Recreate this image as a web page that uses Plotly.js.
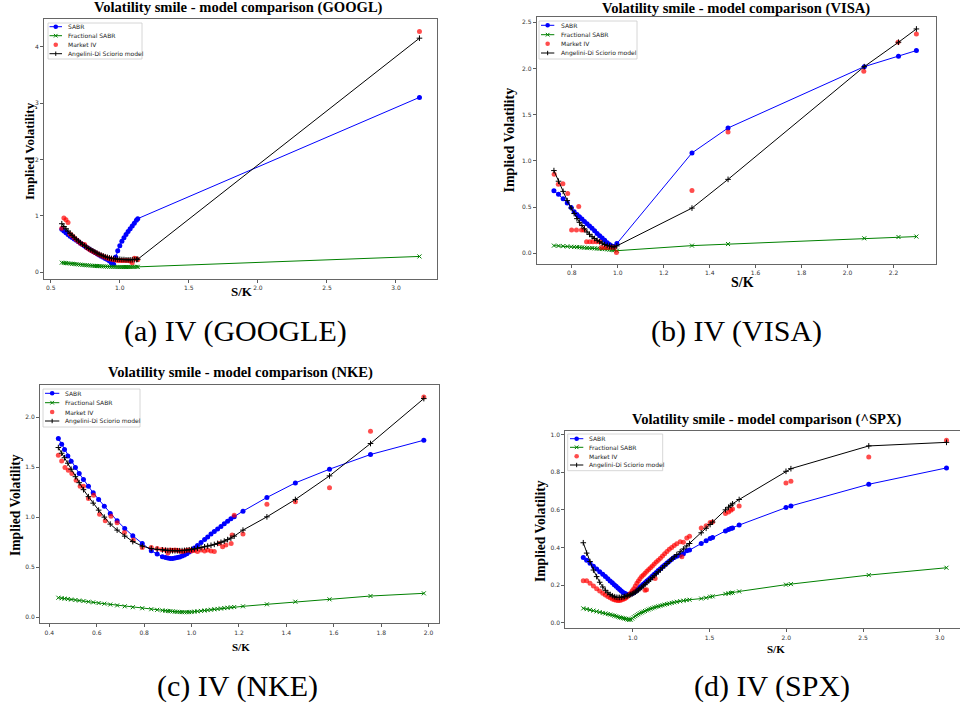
<!DOCTYPE html>
<html>
<head>
<meta charset="utf-8">
<script src="https://cdn.plot.ly/plotly-3.0.1.min.js"></script>
<style>html,body{margin:0;padding:0;background:#fff;}#chart{width:960px;height:706px;}</style>
</head>
<body>
<div id="chart"></div>
<script>
// ---------- DATA ----------
const seriesNames = ['SABR', 'Fractional SABR', 'Market IV', 'Angelini-Di Sciorio model'];
const panelTitles = ['Volatility smile - model comparison (GOOGL)', 'Volatility smile - model comparison (VISA)',
                     'Volatility smile - model comparison (NKE)', 'Volatility smile - model comparison (^SPX)'];
const captions = ['(a) IV (GOOGLE)', '(b) IV (VISA)', '(c) IV (NKE)', '(d) IV (SPX)'];

// (a) GOOGL
const googl_x = [0.58,0.595,0.61,0.625,0.64,0.655,0.67,0.685,0.70,0.715,0.73,0.745,0.76,0.775,0.79,0.805,0.82,0.835,0.85,0.865,0.88,0.895,0.91,0.925,0.94,0.955,0.97,0.985,1.00,1.015,1.03,1.045,1.06,1.075,1.09,1.105,1.12,1.13,3.17];
const googl_sabr = [0.76,0.73,0.70,0.67,0.64,0.615,0.59,0.565,0.54,0.515,0.49,0.465,0.44,0.415,0.395,0.37,0.35,0.325,0.305,0.285,0.265,0.245,0.225,0.2,0.16,0.14,0.27,0.38,0.47,0.55,0.61,0.67,0.72,0.77,0.82,0.87,0.92,0.95,3.10];
const googl_frac = [0.170,0.166,0.162,0.158,0.154,0.150,0.146,0.142,0.138,0.134,0.130,0.127,0.124,0.121,0.118,0.115,0.112,0.110,0.108,0.106,0.104,0.102,0.100,0.098,0.096,0.095,0.094,0.093,0.092,0.092,0.092,0.092,0.093,0.093,0.094,0.094,0.095,0.095,0.28];
const googl_mkt = [0.78,0.96,0.93,0.88,0.68,0.645,0.61,0.575,0.545,0.515,0.49,0.49,0.44,0.41,0.39,0.37,0.35,0.33,0.31,0.295,0.28,0.265,0.25,0.24,0.23,0.22,0.215,0.21,0.21,0.21,0.21,0.21,0.21,0.20,0.17,0.25,0.24,0.22,4.27];
const googl_adis = [0.86,0.81,0.77,0.73,0.69,0.655,0.62,0.585,0.555,0.525,0.495,0.47,0.445,0.42,0.40,0.38,0.36,0.34,0.32,0.305,0.29,0.275,0.265,0.255,0.245,0.24,0.235,0.23,0.23,0.225,0.225,0.22,0.22,0.22,0.22,0.225,0.225,0.23,4.15];

// (b) VISA
const visa_x = [0.722,0.742,0.762,0.78,0.797,0.81,0.822,0.833,0.844,0.855,0.866,0.877,0.888,0.899,0.91,0.921,0.932,0.943,0.954,0.964,0.974,0.984,0.996,1.323,1.48,2.073,2.222,2.30];
const visa_sabr = [0.678,0.638,0.59,0.545,0.495,0.45,0.42,0.395,0.37,0.345,0.32,0.295,0.27,0.245,0.215,0.19,0.165,0.14,0.115,0.095,0.08,0.07,0.105,1.086,1.356,2.02,2.133,2.194];
const visa_frac = [0.083,0.080,0.077,0.074,0.071,0.069,0.067,0.065,0.063,0.061,0.059,0.057,0.055,0.053,0.051,0.049,0.047,0.045,0.042,0.039,0.036,0.033,0.028,0.083,0.10,0.162,0.176,0.181];
const visa_adis = [0.895,0.78,0.67,0.57,0.49,0.43,0.375,0.335,0.30,0.265,0.23,0.205,0.18,0.16,0.14,0.125,0.11,0.095,0.085,0.078,0.072,0.068,0.08,0.489,0.80,2.02,2.284,2.428];
const visa_mkt_x = [0.723,0.741,0.761,0.782,0.83,0.799,0.82,0.842,0.852,0.864,0.878,0.892,0.907,0.921,0.928,0.943,0.957,0.972,0.986,0.994,1.323,1.48,2.071,2.22,2.30];
const visa_mkt = [0.856,0.748,0.752,0.648,0.505,0.252,0.252,0.252,0.252,0.124,0.124,0.124,0.124,0.124,0.062,0.062,0.062,0.062,0.062,0.008,0.68,1.313,1.971,2.284,2.374];

// (c) NKE
const nke_x = [0.438,0.452,0.464,0.478,0.492,0.510,0.526,0.544,0.565,0.585,0.608,0.632,0.657,0.686,0.718,0.752,0.792,0.830,0.855,0.877,0.890,0.900,0.910,0.920,0.930,0.940,0.950,0.960,0.970,0.980,0.990,1.000,1.012,1.025,1.040,1.055,1.068,1.082,1.096,1.110,1.124,1.138,1.152,1.166,1.180,1.217,1.318,1.438,1.582,1.755,1.980];
const nke_sabr = [1.787,1.73,1.677,1.613,1.56,1.497,1.437,1.377,1.31,1.243,1.177,1.11,1.037,0.963,0.887,0.813,0.737,0.663,0.63,0.603,0.595,0.59,0.587,0.587,0.59,0.595,0.602,0.61,0.62,0.633,0.65,0.668,0.69,0.715,0.745,0.775,0.80,0.83,0.855,0.88,0.905,0.935,0.96,0.985,1.005,1.06,1.197,1.343,1.48,1.627,1.77];
const nke_frac = [0.193,0.188,0.184,0.180,0.175,0.170,0.165,0.160,0.153,0.147,0.140,0.133,0.125,0.116,0.107,0.098,0.088,0.078,0.072,0.066,0.063,0.060,0.058,0.056,0.054,0.052,0.050,0.049,0.048,0.048,0.049,0.051,0.054,0.057,0.061,0.065,0.069,0.073,0.077,0.081,0.085,0.089,0.093,0.097,0.100,0.107,0.127,0.153,0.177,0.21,0.237];
const nke_adis = [1.697,1.64,1.595,1.54,1.48,1.405,1.345,1.275,1.205,1.14,1.07,1.0,0.93,0.87,0.81,0.755,0.71,0.685,0.677,0.672,0.668,0.666,0.664,0.663,0.663,0.663,0.664,0.665,0.667,0.67,0.673,0.677,0.682,0.688,0.695,0.703,0.71,0.718,0.727,0.737,0.748,0.76,0.775,0.79,0.81,0.87,1.003,1.177,1.413,1.737,2.187];
const nke_mkt_x = [0.438,0.452,0.466,0.48,0.495,0.513,0.53,0.544,0.565,0.587,0.612,0.636,0.66,0.686,0.717,0.754,0.792,0.83,0.855,0.875,0.89,0.90,0.91,0.92,0.93,0.94,0.95,0.96,0.97,0.98,0.99,1.00,1.012,1.025,1.04,1.055,1.068,1.082,1.096,1.117,1.131,1.145,1.167,1.171,1.18,1.217,1.318,1.438,1.582,1.755,1.98];
const nke_mkt = [1.62,1.563,1.497,1.47,1.437,1.37,1.31,1.31,1.187,1.22,1.03,0.963,1.01,0.943,0.847,0.77,0.697,0.697,0.687,0.675,0.672,0.64,0.67,0.668,0.672,0.668,0.66,0.655,0.66,0.668,0.67,0.66,0.665,0.655,0.672,0.66,0.672,0.662,0.655,0.737,0.703,0.72,0.737,0.82,1.02,0.83,1.13,1.153,1.293,1.86,2.203];

// (d) SPX
const spx_x = [0.678,0.70,0.722,0.744,0.765,0.785,0.805,0.822,0.838,0.853,0.867,0.880,0.892,0.904,0.915,0.926,0.937,0.947,0.957,0.967,0.977,0.987,0.997,1.007,1.017,1.027,1.037,1.047,1.058,1.069,1.080,1.092,1.104,1.116,1.128,1.140,1.153,1.166,1.180,1.194,1.208,1.223,1.238,1.254,1.270,1.287,1.309,1.33,1.352,1.37,1.446,1.478,1.504,1.52,1.604,1.624,1.639,1.65,1.693,1.998,2.03,2.537,3.043];
const spx_sabr = [0.347,0.332,0.316,0.300,0.285,0.271,0.257,0.245,0.233,0.222,0.212,0.202,0.193,0.184,0.176,0.168,0.161,0.156,0.152,0.150,0.150,0.152,0.156,0.161,0.167,0.174,0.181,0.188,0.196,0.204,0.212,0.221,0.230,0.239,0.248,0.257,0.267,0.277,0.287,0.297,0.307,0.317,0.327,0.337,0.346,0.353,0.359,0.366,0.382,0.386,0.421,0.435,0.448,0.453,0.488,0.496,0.501,0.504,0.519,0.612,0.621,0.736,0.823];
const spx_frac = [0.076,0.072,0.068,0.064,0.060,0.056,0.052,0.049,0.046,0.043,0.040,0.037,0.034,0.031,0.028,0.026,0.024,0.022,0.020,0.017,0.015,0.016,0.022,0.029,0.035,0.040,0.045,0.050,0.054,0.058,0.062,0.066,0.070,0.074,0.077,0.081,0.084,0.087,0.090,0.093,0.096,0.099,0.102,0.105,0.108,0.111,0.114,0.117,0.120,0.122,0.128,0.132,0.138,0.140,0.153,0.156,0.158,0.160,0.166,0.202,0.205,0.253,0.292];
const spx_adis = [0.425,0.37,0.325,0.28,0.245,0.215,0.19,0.172,0.159,0.15,0.143,0.138,0.135,0.134,0.134,0.135,0.137,0.139,0.141,0.143,0.146,0.149,0.153,0.157,0.162,0.168,0.174,0.181,0.188,0.196,0.204,0.213,0.222,0.231,0.240,0.250,0.260,0.270,0.281,0.292,0.303,0.314,0.326,0.338,0.350,0.362,0.377,0.392,0.408,0.421,0.478,0.502,0.522,0.535,0.60,0.614,0.624,0.632,0.655,0.805,0.819,0.94,0.959];
const spx_mkt_x = [0.678,0.70,0.722,0.744,0.765,0.785,0.805,0.822,0.838,0.853,0.867,0.880,0.892,0.904,0.915,0.926,0.937,0.947,0.957,0.967,0.977,0.987,0.997,1.007,1.017,1.027,1.037,1.047,1.058,1.069,1.080,1.092,1.104,1.116,1.128,1.140,1.153,1.166,1.180,1.194,1.208,1.223,1.238,1.254,1.270,1.287,1.309,1.33,1.352,1.37,1.446,1.478,1.504,1.52,1.604,1.624,1.639,1.65,1.693,1.998,2.03,2.537,3.043,1.08,1.09,1.146,1.32];
const spx_mkt = [0.223,0.223,0.209,0.195,0.181,0.169,0.157,0.147,0.139,0.132,0.126,0.122,0.119,0.118,0.118,0.120,0.124,0.127,0.133,0.140,0.148,0.158,0.170,0.180,0.195,0.210,0.222,0.234,0.245,0.254,0.263,0.273,0.283,0.292,0.302,0.312,0.322,0.332,0.343,0.355,0.366,0.378,0.390,0.400,0.410,0.420,0.430,0.428,0.450,0.460,0.504,0.515,0.533,0.536,0.580,0.589,0.598,0.604,0.621,0.743,0.752,0.881,0.970,0.173,0.175,0.235,0.35];

// ---------- STYLE / LAYOUT ----------
const W = 960, H = 706;
const PX = v => v / W, PY = v => 1 - v / H;
const C_BLUE = '#0000ff', C_GREEN = '#008000', C_RED = '#ff0000', C_BLACK = '#000000';

function traces(n, xs, sabr, frac, mx, mkt, adis) {
  const xa = n === 1 ? 'x' : 'x' + n, ya = n === 1 ? 'y' : 'y' + n;
  return [
    {x: xs, y: sabr, xaxis: xa, yaxis: ya, name: seriesNames[0], mode: 'lines+markers', showlegend: false,
     line: {color: C_BLUE, width: 1}, marker: {color: C_BLUE, size: 5}},
    {x: xs, y: frac, xaxis: xa, yaxis: ya, name: seriesNames[1], mode: 'lines+markers', showlegend: false,
     line: {color: C_GREEN, width: 1}, marker: {symbol: 'x-thin', size: 4, color: C_GREEN, line: {color: C_GREEN, width: 1}}},
    {x: mx, y: mkt, xaxis: xa, yaxis: ya, name: seriesNames[2], mode: 'markers', showlegend: false,
     marker: {color: C_RED, size: 5, opacity: 0.7}},
    {x: xs, y: adis, xaxis: xa, yaxis: ya, name: seriesNames[3], mode: 'lines+markers', showlegend: false,
     line: {color: C_BLACK, width: 1}, marker: {symbol: 'cross-thin', size: 4, color: C_BLACK, line: {color: C_BLACK, width: 1}}}
  ];
}

const data = [].concat(
  traces(1, googl_x, googl_sabr, googl_frac, googl_x, googl_mkt, googl_adis),
  traces(2, visa_x, visa_sabr, visa_frac, visa_mkt_x, visa_mkt, visa_adis),
  traces(3, nke_x, nke_sabr, nke_frac, nke_mkt_x, nke_mkt, nke_adis),
  traces(4, spx_x, spx_sabr, spx_frac, spx_mkt_x, spx_mkt, spx_adis)
);

const tickFont = {family: 'DejaVu Sans', size: 6, color: '#333'};
function xAx(l, r, range, tick0, dtick, fmt, anchor) {
  return {domain: [PX(l), Math.min(1, PX(r))], range: range, tick0: tick0, dtick: dtick, tickformat: fmt, anchor: anchor,
    showgrid: false, zeroline: false, showline: true, mirror: true, linecolor: '#666', linewidth: 1,
    ticks: 'outside', ticklen: 3, tickwidth: 0.8, tickcolor: '#333', tickfont: tickFont};
}
function yAx(t, b, range, tick0, dtick, fmt, anchor, mirror) {
  return {domain: [PY(b), PY(t)], range: range, tick0: tick0, dtick: dtick, tickformat: fmt, anchor: anchor,
    showgrid: false, zeroline: false, showline: true, mirror: mirror, linecolor: '#666', linewidth: 1,
    ticks: 'outside', ticklen: 3, tickwidth: 0.8, tickcolor: '#333', tickfont: tickFont};
}

const layout = {
  width: W, height: H, margin: {l: 0, r: 0, t: 0, b: 0}, paper_bgcolor: '#fff', plot_bgcolor: '#fff', showlegend: false,
  xaxis:  xAx(44, 437, [0.451, 3.297], 0.5, 0.5, '.1f', 'y'),
  yaxis:  yAx(19, 279, [-0.12, 4.49], 0, 1, 'd', 'x', true),
  xaxis2: xAx(536.7, 935.7, [0.647, 2.384], 0.8, 0.2, '.1f', 'y2'),
  yaxis2: yAx(17.3, 264, [-0.116, 2.554], 0, 0.5, '.1f', 'x2', true),
  xaxis3: xAx(40, 439, [0.3606, 2.044], 0.4, 0.2, '.1f', 'y3'),
  yaxis3: yAx(385, 623.3, [-0.063, 2.323], 0, 0.5, '.1f', 'x3', true),
  xaxis4: xAx(565.3, 960, [0.561, 3.131], 1.0, 0.5, '.1f', 'y4'),
  yaxis4: yAx(430.7, 628.3, [-0.030, 1.021], 0, 0.2, '.1f', 'x4', false),
  shapes: [], annotations: []
};

const serifB = s => ({family: 'Liberation Serif', size: s, color: '#000'});
function txt(text, x, y, font, opts) {
  layout.annotations.push(Object.assign({text: text, x: PX(x), y: PY(y), xref: 'paper', yref: 'paper',
    showarrow: false, xanchor: 'center', yanchor: 'middle', font: font}, opts || {}));
}

// panel titles, axis labels, captions
const titlePos = [[238, 7.5], [736, 8.5], [240.7, 373], [767, 419]];
const yLabPos = [[30, 151, 13], [509.5, 140, 14], [15, 505, 13.6], [540, 531, 13.6]];
const xLabPos = [[242, 291, 13], [742, 282.5, 14], [241, 647, 11], [776, 649, 11]];
const capPos = [[235, 331], [736, 331], [237, 686], [772, 686]];
for (let i = 0; i < 4; i++) {
  txt('<b>' + panelTitles[i] + '</b>', titlePos[i][0], titlePos[i][1], serifB(14.6));
  txt('<b>Implied Volatility</b>', yLabPos[i][0], yLabPos[i][1], serifB(yLabPos[i][2]), {textangle: -90});
  txt('<b>S/K</b>', xLabPos[i][0], xLabPos[i][1], serifB(xLabPos[i][2]));
  txt(captions[i], capPos[i][0], capPos[i][1], {family: 'Liberation Serif', size: 30, color: '#000'});
}

// custom compact legends (matplotlib style)
function legend(box, rows, lx0, lx1, tx) {
  layout.shapes.push({type: 'rect', xref: 'paper', yref: 'paper', x0: PX(box[0]), x1: PX(box[1]), y0: PY(box[3]), y1: PY(box[2]),
    fillcolor: 'rgba(255,255,255,0.85)', line: {color: '#cccccc', width: 0.8}, layer: 'above'});
  const cx = (lx0 + lx1) / 2;
  const L = (x0, y0, x1, y1, c, w) => layout.shapes.push({type: 'line', xref: 'paper', yref: 'paper',
    x0: PX(x0), y0: PY(y0), x1: PX(x1), y1: PY(y1), line: {color: c, width: w || 1}, layer: 'above'});
  const dot = (y, c, op) => layout.shapes.push({type: 'circle', xref: 'paper', yref: 'paper',
    x0: PX(cx - 2.3), x1: PX(cx + 2.3), y0: PY(y + 2.3), y1: PY(y - 2.3), fillcolor: c, opacity: op || 1, line: {width: 0}, layer: 'above'});
  // SABR
  L(lx0, rows[0], lx1, rows[0], C_BLUE); dot(rows[0], C_BLUE);
  // Fractional SABR
  L(lx0, rows[1], lx1, rows[1], C_GREEN);
  L(cx - 1.8, rows[1] - 1.8, cx + 1.8, rows[1] + 1.8, C_GREEN); L(cx - 1.8, rows[1] + 1.8, cx + 1.8, rows[1] - 1.8, C_GREEN);
  // Market IV
  dot(rows[2], C_RED, 0.7);
  // Angelini-Di Sciorio
  L(lx0, rows[3], lx1, rows[3], C_BLACK); L(cx, rows[3] - 2.2, cx, rows[3] + 2.2, C_BLACK);
  for (let k = 0; k < 4; k++) {
    txt(seriesNames[k], tx, rows[k], {family: 'DejaVu Sans', size: 6, color: '#222'}, {xanchor: 'left'});
  }
}
legend([48, 142, 23, 59], [26.7, 35.7, 44.7, 53.7], 49.5, 62, 66);
legend([539, 637, 21, 59], [25.3, 34.7, 43.7, 53], 541, 554.3, 558.7);
legend([43, 140, 389, 427], [393.3, 402.7, 412, 421], 45, 59.3, 62.7);
legend([567.7, 662.7, 434, 470.7], [438.7, 447.3, 456.3, 465], 570, 583.3, 587.3);

Plotly.newPlot('chart', data, layout, {displayModeBar: false, staticPlot: true});
</script>
</body>
</html>
